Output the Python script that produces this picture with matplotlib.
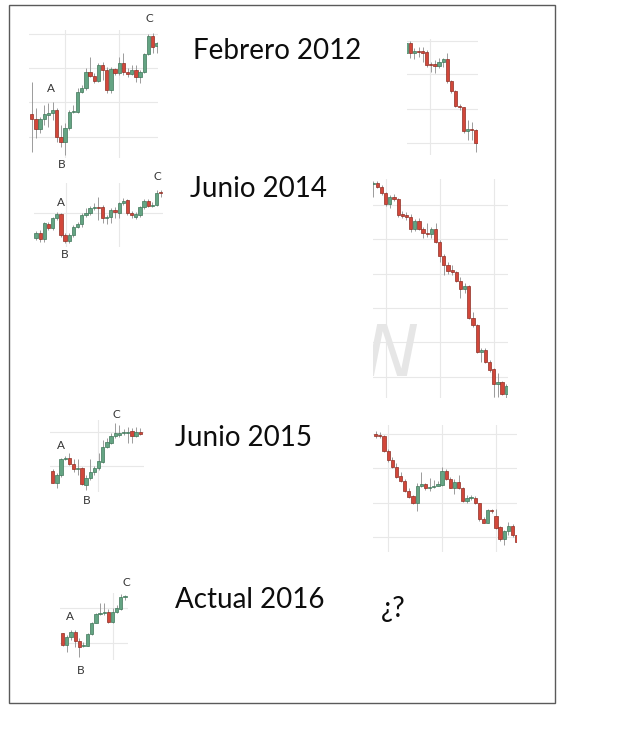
import matplotlib
matplotlib.use("Agg")
import matplotlib.pyplot as plt
from matplotlib.patches import Rectangle

# ---------------- data (candles: open, high, low, close) ----------------
# Febrero 2012 - left (rise A-B-C)
feb12_up_open  = [18.8,17.2,14.3,17.2,18.5,19.0,20.0,12.0,10.5,14.5,19.3,19.5,25.5,26.5,31.3,30.3,28.8,33.5,32.0,26.0,32.2,31.2,34.2,31.5,30.8,32.0,30.0,31.3,36.7,42.2,39.2]
feb12_up_high  = [28.5,20.5,18.0,21.5,22.0,22.5,20.5,15.5,16.0,20.0,21.5,26.5,27.5,32.5,36.0,31.0,34.0,34.5,33.0,33.0,32.5,36.0,37.0,32.5,33.5,33.5,32.0,37.0,42.8,43.0,40.5]
feb12_up_low   = [7.5,11.5,13.0,15.5,15.0,17.0,10.5,9.0,6.5,14.0,19.0,19.0,25.0,26.0,30.0,28.0,28.5,29.0,25.0,25.0,30.5,30.5,30.5,30.0,30.5,28.5,28.0,31.0,36.5,37.2,37.0]
feb12_up_close = [17.2,14.3,17.2,18.7,19.0,20.0,12.0,10.5,14.5,19.3,19.7,25.5,26.5,31.5,30.3,28.8,33.5,32.0,26.0,32.2,31.2,34.2,31.5,30.7,32.0,30.0,31.5,36.7,42.2,39.0,40.0]
# Febrero 2012 - right (fall)
feb12_dn_open  = [43.0,46.2,43.0,43.8,43.6,43.3,39.7,39.7,39.2,40.5,41.2,34.7,31.7,27.2,26.8,19.7,20.3,20.0]
feb12_dn_high  = [46.2,46.8,44.5,45.0,45.0,44.0,40.5,41.0,41.5,41.5,43.0,35.0,32.0,27.8,27.0,23.0,22.5,20.2]
feb12_dn_low   = [40.5,41.5,41.2,42.0,40.5,39.0,37.5,37.0,38.5,39.0,34.2,31.2,26.8,26.0,19.0,17.0,17.0,13.5]
feb12_dn_close = [46.0,43.0,43.8,43.4,43.2,39.5,39.4,39.3,40.5,41.2,34.7,31.7,27.2,26.8,19.7,20.3,20.0,16.0]
# Junio 2014 - left
jun14_up_open  = [29.7,31.2,29.3,33.8,32.5,35.5,36.8,30.5,28.8,30.5,33.0,33.7,36.4,37.0,38.7,38.8,39.0,35.5,35.8,38.0,37.2,40.0,41.0,37.2,36.0,36.5,38.8,40.8,39.3,39.5,43.4]
jun14_up_high  = [31.7,32.0,34.5,34.5,36.0,37.5,37.0,31.0,31.0,33.5,34.5,37.0,38.5,39.2,40.0,41.8,39.5,36.5,38.5,39.0,40.5,41.5,41.2,37.8,37.5,39.2,41.2,41.2,40.5,44.0,44.0]
jun14_up_low   = [29.0,28.5,28.5,32.0,32.0,35.0,30.0,28.0,28.2,30.0,32.5,33.0,36.0,36.5,38.0,35.0,34.0,33.8,34.0,35.5,35.5,39.5,36.5,35.5,35.2,36.0,38.2,38.8,38.8,39.2,42.0]
jun14_up_close = [31.2,29.3,34.0,32.5,35.5,36.8,30.5,28.8,30.5,33.0,33.7,36.4,37.2,38.7,39.0,38.6,35.5,36.0,38.0,37.5,40.0,40.8,37.0,36.4,36.7,38.8,40.8,39.3,39.5,43.2,43.0]
# Junio 2014 - right
jun14_dn_open  = [67.2,67.5,66.5,64.5,61.2,63.5,62.8,58.2,58.0,57.5,53.8,56.3,53.8,52.5,52.2,53.8,50.0,45.7,43.0,41.5,40.8,38.3,35.8,36.7,27.0,25.0,17.0,17.5,14.0,11.7,7.2,8.0,4.2]
jun14_dn_high  = [68.2,68.2,67.0,65.0,64.0,64.2,63.0,59.2,58.8,58.2,56.8,57.0,54.5,55.5,54.5,55.5,50.5,46.2,43.8,43.0,41.2,39.5,37.5,37.0,29.0,25.2,18.0,18.0,14.5,12.2,10.5,8.2,7.2]
jun14_dn_low   = [63.5,66.0,64.0,60.8,60.0,62.2,57.5,57.2,56.5,53.0,53.2,53.5,51.0,51.5,51.0,49.5,44.0,40.0,40.2,40.0,38.0,33.2,34.5,26.8,24.5,16.5,14.0,13.5,11.0,3.5,3.5,4.0,3.2]
jun14_dn_close = [67.5,66.5,64.5,61.2,63.5,62.8,58.0,57.8,57.3,53.8,56.3,53.8,52.5,52.2,53.8,50.0,45.7,43.0,41.3,40.8,38.3,35.8,36.7,27.0,25.0,17.0,17.5,14.0,11.5,7.2,8.0,4.2,6.8]
# Junio 2015 - left
jun15_up_open  = [28.8,25.2,27.5,32.2,32.5,30.8,29.2,29.6,24.5,26.5,28.5,29.5,31.5,36.0,37.2,39.2,39.5,40.1,40.2,40.7,39.2,40.4]
jun15_up_high  = [29.2,28.0,32.5,33.2,34.2,32.2,32.2,30.0,27.5,32.2,30.2,34.0,38.0,38.5,40.0,43.0,42.5,41.2,42.0,41.5,41.8,41.5]
jun15_up_low   = [25.0,23.5,27.0,32.0,30.5,28.5,27.5,24.5,23.0,26.0,27.5,29.0,31.0,35.5,36.8,38.5,39.0,39.5,37.0,37.0,38.8,39.5]
jun15_up_close = [25.2,27.5,32.2,32.5,30.8,29.2,29.6,24.8,26.5,28.5,29.5,31.7,36.0,37.5,39.2,40.0,40.2,40.3,40.5,39.2,40.5,39.9]
# Junio 2015 - right
jun15_dn_open  = [45.7,45.2,45.2,40.8,38.0,35.8,33.2,31.8,28.8,27.2,25.2,30.3,30.7,29.7,30.0,30.3,30.5,34.7,32.2,29.7,31.4,29.5,25.7,26.5,26.7,25.0,20.2,19.2,22.8,21.2,17.8,14.2,16.8,18.3,15.5]
jun15_dn_high  = [46.8,46.5,45.5,41.2,39.0,37.0,34.5,32.2,29.5,27.5,31.0,34.5,31.0,32.5,32.0,31.8,36.0,35.2,32.8,32.2,33.5,30.0,27.5,27.5,27.2,25.2,20.8,23.2,23.2,23.2,18.2,17.0,19.5,18.8,16.0]
jun15_dn_low   = [44.5,44.5,40.5,37.5,35.5,32.5,31.5,28.5,26.5,24.8,22.8,30.0,29.0,28.8,29.5,30.2,30.2,32.0,29.5,27.8,29.2,25.5,25.2,26.0,24.8,19.8,19.0,19.0,22.0,17.2,13.8,12.5,15.5,15.0,10.5]
jun15_dn_close = [45.2,45.1,40.8,38.0,35.8,33.0,31.8,28.8,27.0,25.0,30.3,30.7,29.5,30.0,30.3,30.7,34.7,32.2,29.7,31.4,29.5,25.7,26.5,26.8,25.0,20.2,19.2,23.0,22.6,17.5,14.2,16.8,18.2,15.5,13.5]
# Actual 2016
act16_open  = [31.0,27.5,30.0,31.5,28.8,27.2,27.3,30.7,34.2,36.7,37.2,37.5,34.5,37.5,38.2,42.0]
act16_high  = [31.2,30.5,32.0,32.0,29.5,28.5,31.0,34.5,37.2,40.0,40.0,38.2,38.5,39.5,42.8,42.5]
act16_low   = [27.2,25.5,29.0,27.0,23.8,26.8,27.2,30.5,34.0,36.5,36.5,34.2,34.0,37.2,38.0,41.0]
act16_close = [27.5,30.0,31.5,28.8,26.8,27.5,30.7,34.2,36.7,37.2,37.5,34.5,37.5,38.5,42.0,42.2]

# grid levels of each mini chart (price levels / candle index)
feb12_up_hgrid = [42.8, 32.5, 22.3, 12.0]; feb12_up_vgrid = [8, 21]
feb12_dn_hgrid = [46.8, 36.7, 26.3, 16.0]; feb12_dn_vgrid = [5.9]
jun14_up_hgrid = [37.0];                   jun14_up_vgrid = [7.1, 20.05]
jun14_dn_hgrid = [61.0, 50.8, 40.3, 30.0, 19.8, 9.5]; jun14_dn_vgrid = [3.1, 16.1, 29.1]
jun15_up_hgrid = [40.5, 30.3];             jun15_up_vgrid = [10.94]
jun15_dn_hgrid = [45.7, 35.5, 25.2, 14.8]; jun15_dn_vgrid = [3.05, 16.08, 28.94]
act16_hgrid = [38.5, 28.2];                act16_vgrid = [12.03]

titles = ["Febrero 2012", "Junio 2014", "Junio 2015", "Actual 2016"]
abc = ["A", "B", "C"]

# ---------------- drawing ----------------
W, H = 640, 743
fig = plt.figure(figsize=(W / 100, H / 100), dpi=100)
fig.patch.set_facecolor("white")

RED, RED_E = "#d2473a", "#8e2e24"
GREEN, GREEN_E = "#64a483", "#3f7659"
WICK = "#9b9b9b"
GRID = "#e8e8e8"


def px_axes(x0, y0, x1, y1):
    return fig.add_axes([x0 / W, 1 - y1 / H, (x1 - x0) / W, (y1 - y0) / H])


def candles(box, xlim, ylim, o, h, l, c, hgrid, vgrid, mindoji):
    ax = px_axes(*box)
    ax.set_xlim(xlim)
    ax.set_ylim(ylim)
    for s in ax.spines.values():
        s.set_visible(False)
    ax.set_xticks(vgrid)
    ax.set_yticks(hgrid)
    ax.tick_params(length=0, labelbottom=False, labelleft=False)
    ax.grid(True, color=GRID, lw=0.8)
    ax.set_axisbelow(True)
    ax.patch.set_alpha(0)
    xs = list(range(len(o)))
    ax.vlines(xs, l, h, color=WICK, lw=0.7, zorder=2)
    up = [ci >= oi for oi, ci in zip(o, c)]
    bottoms = [min(oi, ci) for oi, ci in zip(o, c)]
    heights = [max(abs(ci - oi), mindoji) for oi, ci in zip(o, c)]
    ax.bar(xs, heights, bottom=bottoms, width=0.78,
           color=[GREEN if u else RED for u in up],
           edgecolor=[GREEN_E if u else RED_E for u in up],
           linewidth=0.5, zorder=3)
    return ax


candles((29, 30, 158, 158), (-0.65, 30.3), (5.6, 44.0),
        feb12_up_open, feb12_up_high, feb12_up_low, feb12_up_close,
        feb12_up_hgrid, feb12_up_vgrid, 0.3)
candles((407, 39, 478, 155), (0.17, 17.5), (12.5, 47.3),
        feb12_dn_open, feb12_dn_high, feb12_dn_low, feb12_dn_close,
        feb12_dn_hgrid, feb12_dn_vgrid, 0.3)
candles((34, 183.3, 162.7, 247.3), (-0.48, 30.48), (26.8, 46.0),
        jun14_up_open, jun14_up_high, jun14_up_low, jun14_up_close,
        jun14_up_hgrid, jun14_up_vgrid, 0.3)
ax4 = candles((373, 179, 508.3, 398), (-0.05, 32.5), (3.1, 68.8),
              jun14_dn_open, jun14_dn_high, jun14_dn_low, jun14_dn_close,
              jun14_dn_hgrid, jun14_dn_vgrid, 0.3)
ax4.text(0.13, 0.19, "N", transform=ax4.transAxes, fontsize=52,
         family="DejaVu Sans", fontstyle="italic", fontweight="normal",
         color="#e6e6e6", ha="center", va="center", zorder=1, clip_on=True)
candles((50, 420, 144, 491.7), (-0.65, 21.9), (22.5, 44.0),
        jun15_up_open, jun15_up_high, jun15_up_low, jun15_up_close,
        jun15_up_hgrid, jun15_up_vgrid, 0.3)
candles((373.3, 425, 517.3, 551.7), (-0.58, 34.15), (10.5, 48.5),
        jun15_dn_open, jun15_dn_high, jun15_dn_low, jun15_dn_close,
        jun15_dn_hgrid, jun15_dn_vgrid, 0.3)
candles((60, 593.3, 128.3, 660), (-0.65, 15.8), (23.0, 43.0),
        act16_open, act16_high, act16_low, act16_close,
        act16_hgrid, act16_vgrid, 0.3)


def ftext(x, y, s, **kw):
    fig.text(x / W, 1 - y / H, s, **kw)


# titles
for (x, y), t in zip([(193, 59), (190, 197), (175, 446), (175, 608)], titles):
    ftext(x, y, t, fontsize=20, family="Lato", color="#0d0d0d",
          ha="left", va="baseline")
ftext(381, 617, "¿?", fontsize=20, family="Lato", color="#0d0d0d",
      ha="left", va="baseline")

# A / B / C markers
abc_pos = [
    [(50.7, 89), (61.7, 164), (149.3, 19)],
    [(60.7, 203), (65, 255), (157.7, 177)],
    [(61, 446), (86.7, 500), (116.7, 415)],
    [(70, 617), (80.7, 670), (126.7, 582.5)],
]
for group in abc_pos:
    for (x, y), s in zip(group, abc):
        ftext(x, y, s, fontsize=8.5, family="Lato", color="#333333",
              ha="center", va="center")

# outer frame
fig.add_artist(Rectangle((9 / W, 1 - 703 / H), (555 - 9) / W, (703 - 5) / H,
                         transform=fig.transFigure, fill=False,
                         edgecolor="#5a5a5a", lw=1.0))

fig.savefig("out.png", dpi=100, facecolor="white")
